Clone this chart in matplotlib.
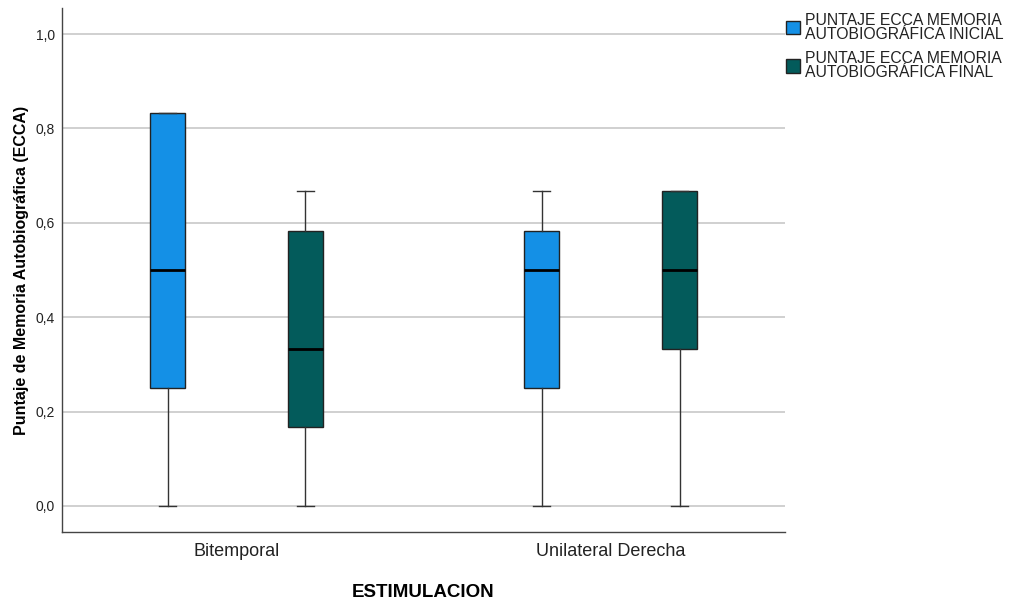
import matplotlib
matplotlib.use("Agg")
import matplotlib.pyplot as plt
from matplotlib.patches import Patch

plt.rcParams['font.family'] = ['Liberation Sans', 'DejaVu Sans']

groups = ["Bitemporal", "Unilateral Derecha"]
series = ["PUNTAJE ECCA MEMORIA\nAUTOBIOGRÁFICA INICIAL",
          "PUNTAJE ECCA MEMORIA\nAUTOBIOGRÁFICA FINAL"]
colors = ["#1490e6", "#035b5b"]

# per series, per group
whislo = [[0.0, 0.0], [0.0, 0.0]]
q1 = [[0.25, 0.25], [0.167, 0.333]]
med = [[0.5, 0.5], [0.333, 0.5]]
q3 = [[0.833, 0.583], [0.583, 0.667]]
whishi = [[0.833, 0.667], [0.667, 0.667]]

yticks = [0.0, 0.2, 0.4, 0.6, 0.8, 1.0]
ytick_labels = ["0,0", "0,2", "0,4", "0,6", "0,8", "1,0"]

fig = plt.figure(figsize=(10.11, 6.01), dpi=100)
ax = fig.add_axes([62/1011, 1-532/601, (785-62)/1011, (532-8)/601])

offsets = [-0.185, 0.183]
for s in range(2):
    stats = []
    for g in range(2):
        stats.append(dict(whislo=whislo[s][g], q1=q1[s][g], med=med[s][g],
                          q3=q3[s][g], whishi=whishi[s][g], fliers=[]))
    pos = [g + offsets[s] for g in range(2)]
    ax.bxp(stats, positions=pos, widths=0.094, patch_artist=True,
           showfliers=False,
           boxprops=dict(facecolor=colors[s], edgecolor="#222222", linewidth=1),
           medianprops=dict(color="black", linewidth=2),
           whiskerprops=dict(color="#333333", linewidth=1),
           capprops=dict(color="#333333", linewidth=1),
           capwidths=0.045, zorder=3)

ax.set_xlim(-0.468, 1.465)
ax.set_ylim(-0.0551, 1.0551)
ax.set_yticks(yticks)
ax.set_yticklabels(ytick_labels, fontsize=10, color="#222222")
ax.set_xticks([0, 1])
ax.set_xticklabels(groups, fontsize=13, color="#222222")
ax.tick_params(axis='both', length=0)
ax.tick_params(axis='x', pad=8)
ax.tick_params(axis='y', pad=5)
ax.grid(axis='y', color="#c8c8c8", linewidth=1.2, zorder=0)
ax.set_axisbelow(True)
for sp in ["top", "right"]:
    ax.spines[sp].set_visible(False)
for sp in ["left", "bottom"]:
    ax.spines[sp].set_color("#444444")
    ax.spines[sp].set_linewidth(1)

ax.set_xlabel("ESTIMULACION", fontsize=13.5, fontweight="bold", labelpad=17)
ax.set_ylabel("Puntaje de Memoria Autobiográfica (ECCA)", fontsize=11.5,
              fontweight="bold", labelpad=5)

handles = [Patch(facecolor=colors[i], edgecolor="#222222", linewidth=1, label=series[i])
           for i in range(2)]
fig.legend(handles=handles, loc="upper left", bbox_to_anchor=(775/1011, 0.997),
           frameon=False, fontsize=11.3, handlelength=0.9, handleheight=0.9,
           handletextpad=0.3, labelspacing=0.6, borderaxespad=0.3)
for t in fig.legends[0].get_texts():
    t.set_linespacing(0.9)
    t.set_color("#222222")

fig.savefig("out.png", dpi=100)
